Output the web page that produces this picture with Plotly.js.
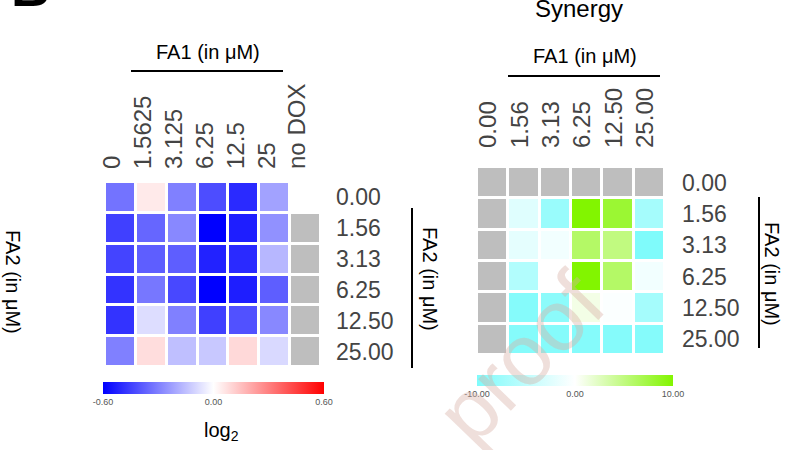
<!DOCTYPE html>
<html>
<head>
<meta charset="utf-8">
<script src="https://cdn.plot.ly/plotly-3.0.1.min.js"></script>
<style>html,body{margin:0;padding:0;background:#fff;}#chart{width:789px;height:450px;}</style>
</head>
<body>
<div id="chart"></div>
<script>
// ---- data ----
const fa1Left = ['0', '1.5625', '3.125', '6.25', '12.5', '25', 'no DOX'];
const fa2Labels = ['0.00', '1.56', '3.13', '6.25', '12.50', '25.00'];
// log2 fold values (null = not tested, drawn grey)
const log2Values = [
  [-0.33,  0.05, -0.30, -0.42, -0.50, -0.22,  0.00],
  [-0.45, -0.36, -0.28, -0.60, -0.53, -0.26,  null],
  [-0.44, -0.38, -0.38, -0.52, -0.50, -0.17,  null],
  [-0.48, -0.32, -0.43, -0.60, -0.53, -0.38,  null],
  [-0.48, -0.08, -0.30, -0.45, -0.41, -0.28,  null],
  [-0.30,  0.08, -0.15, -0.13,  0.09, -0.09,  null]
];
const fa1Right = ['0.00', '1.56', '3.13', '6.25', '12.50', '25.00'];
const synergyValues = [
  [null, null,  null,  null,  null,  null],
  [null, -2.5, -8.0,  10.0,   8.0,  -7.0],
  [null, -2.0, -1.0,   6.0,   5.0, -10.0],
  [null, -6.0,  0.0,  10.0,   6.0,  -1.0],
  [null, -9.5, -9.0,   1.0,  -0.3,  -7.0],
  [null, -9.5, -9.5,  -9.5,  -9.5,  -9.5]
];
const log2Ticks = [-0.6, 0, 0.6];
const log2TickText = ['-0.60', '0.00', '0.60'];
const synTicks = [-10, 0, 10];
const synTickText = ['-10.00', '0.00', '10.00'];

// ---- helpers ----
const W = 789, H = 450;
const px = x => x / W;
const py = y => 1 - y / H;
const greyOf = z => z.map(r => r.map(v => v === null ? 1 : null));
const FONT = 'Liberation Sans, Arial, sans-serif';
const GREY = '#bebebe';

const traces = [
  {
    type: 'heatmap', x: fa1Left, y: fa2Labels, z: log2Values,
    xaxis: 'x', yaxis: 'y',
    zmin: -0.6, zmax: 0.6,
    colorscale: [[0, '#0000ff'], [0.5, '#ffffff'], [1, '#ff0000']],
    xgap: 3, ygap: 3, hoverongaps: false,
    colorbar: {
      orientation: 'h', x: px(213.5), xanchor: 'center', y: py(382), yanchor: 'top',
      len: 221, lenmode: 'pixels', thickness: 12, thicknessmode: 'pixels',
      xpad: 0, ypad: 0, outlinewidth: 0,
      tickvals: log2Ticks, ticktext: log2TickText, ticks: '',
      tickfont: {family: FONT, size: 9, color: '#555'}
    }
  },
  {
    type: 'heatmap', x: fa1Left, y: fa2Labels, z: greyOf(log2Values),
    xaxis: 'x', yaxis: 'y', showscale: false,
    colorscale: [[0, GREY], [1, GREY]], xgap: 3, ygap: 3, hoverinfo: 'skip'
  },
  {
    type: 'heatmap', x: fa1Right, y: fa2Labels, z: synergyValues,
    xaxis: 'x2', yaxis: 'y2',
    zmin: -10, zmax: 10,
    colorscale: [[0, '#7ffbfb'], [0.5, '#ffffff'], [1, '#82f500']],
    xgap: 3, ygap: 3, hoverongaps: false,
    colorbar: {
      orientation: 'h', x: px(575), xanchor: 'center', y: py(375), yanchor: 'top',
      len: 196, lenmode: 'pixels', thickness: 11, thicknessmode: 'pixels',
      xpad: 0, ypad: 0, outlinewidth: 0,
      tickvals: synTicks, ticktext: synTickText, ticks: '',
      tickfont: {family: FONT, size: 9, color: '#555'}
    }
  },
  {
    type: 'heatmap', x: fa1Right, y: fa2Labels, z: greyOf(synergyValues),
    xaxis: 'x2', yaxis: 'y2', showscale: false,
    colorscale: [[0, GREY], [1, GREY]], xgap: 3, ygap: 3, hoverinfo: 'skip'
  }
];

const tickFont = {family: FONT, size: 23, color: '#444'};
const xTickFont = {family: FONT, size: 24, color: '#444'};
const baseX = {type: 'category', side: 'top', tickangle: -90, showgrid: false, zeroline: false,
  showline: false, ticks: '', tickfont: xTickFont, fixedrange: true};
const baseY = {type: 'category', side: 'right', autorange: 'reversed', showgrid: false, zeroline: false,
  showline: false, ticks: '', tickfont: tickFont, fixedrange: true};

const layout = {
  width: W, height: H,
  margin: {l: 0, r: 0, t: 0, b: 0},
  paper_bgcolor: '#fff', plot_bgcolor: '#fff',
  showlegend: false,
  xaxis: Object.assign({}, baseX, {domain: [px(105), px(321)], anchor: 'y', ticklabelstandoff: 12, ticklabelshift: -8}),
  yaxis: Object.assign({}, baseY, {domain: [py(367), py(182)], anchor: 'x', ticklabelstandoff: 14}),
  xaxis2: Object.assign({}, baseX, {domain: [px(477), px(665)], anchor: 'y2', ticklabelstandoff: 18, ticklabelshift: -4}),
  yaxis2: Object.assign({}, baseY, {domain: [py(355), py(167)], anchor: 'x2', ticklabelstandoff: 16}),
  shapes: [
    {type: 'line', xref: 'paper', yref: 'paper', x0: px(131), x1: px(283), y0: py(71), y1: py(71), line: {color: '#000', width: 2}},
    {type: 'line', xref: 'paper', yref: 'paper', x0: px(508), x1: px(660), y0: py(76), y1: py(76), line: {color: '#000', width: 2}},
    {type: 'line', xref: 'paper', yref: 'paper', x0: px(412), x1: px(412), y0: py(208), y1: py(368), line: {color: '#000', width: 2}},
    {type: 'line', xref: 'paper', yref: 'paper', x0: px(759), x1: px(759), y0: py(197), y1: py(348), line: {color: '#000', width: 2}}
  ],
  annotations: [
    {text: 'proof', xref: 'paper', yref: 'paper', x: px(520), y: py(358), xanchor: 'center', yanchor: 'middle',
      showarrow: false, textangle: -46,
      font: {family: FONT, size: 86, color: 'rgba(215,175,165,0.4)'}},
    {text: '<b>B</b>', xref: 'paper', yref: 'paper', x: px(9), y: py(19), xanchor: 'left', yanchor: 'bottom',
      showarrow: false, font: {family: FONT, size: 54, color: '#000'}},
    {text: 'Synergy', xref: 'paper', yref: 'paper', x: px(579), y: py(8), xanchor: 'center', yanchor: 'middle',
      showarrow: false, font: {family: FONT, size: 24, color: '#000'}},
    {text: 'FA1 (in μM)', xref: 'paper', yref: 'paper', x: px(208), y: py(52), xanchor: 'center', yanchor: 'middle',
      showarrow: false, font: {family: FONT, size: 20, color: '#000'}},
    {text: 'FA1 (in μM)', xref: 'paper', yref: 'paper', x: px(585), y: py(56), xanchor: 'center', yanchor: 'middle',
      showarrow: false, font: {family: FONT, size: 20, color: '#000'}},
    {text: 'FA2 (in μM)', xref: 'paper', yref: 'paper', x: px(430), y: py(279), xanchor: 'center', yanchor: 'middle',
      textangle: 90, showarrow: false, font: {family: FONT, size: 20, color: '#000'}},
    {text: 'FA2 (in μM)', xref: 'paper', yref: 'paper', x: px(772), y: py(274), xanchor: 'center', yanchor: 'middle',
      textangle: 90, showarrow: false, font: {family: FONT, size: 20, color: '#000'}},
    {text: 'FA2 (in μM)', xref: 'paper', yref: 'paper', x: px(13), y: py(282), xanchor: 'center', yanchor: 'middle',
      textangle: 90, showarrow: false, font: {family: FONT, size: 20, color: '#000'}},
    {text: 'log<sub>2</sub>', xref: 'paper', yref: 'paper', x: px(221), y: py(431), xanchor: 'center', yanchor: 'middle',
      showarrow: false, font: {family: FONT, size: 20, color: '#000'}}
  ]
};

Plotly.newPlot('chart', traces, layout, {displayModeBar: false, staticPlot: true});
</script>
</body>
</html>
